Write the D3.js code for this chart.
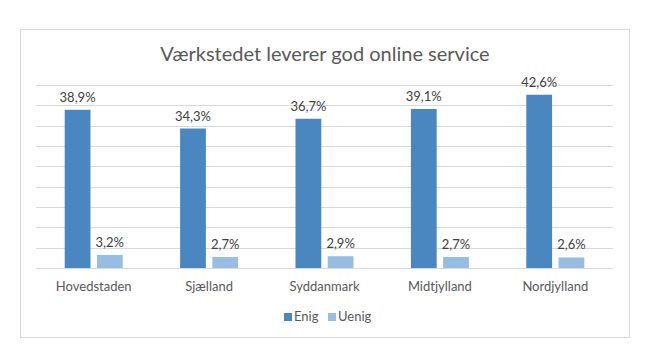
<!DOCTYPE html>
<html><head><meta charset="utf-8">
<script src="https://cdn.jsdelivr.net/npm/d3@7"></script>
<style>body{margin:0;background:#fff}svg{display:block}</style>
</head><body>
<script>
const categories = ["Hovedstaden","Sjælland","Syddanmark","Midtjylland","Nordjylland"];
const seriesNames = ["Enig","Uenig"];
const enig = [38.9,34.3,36.7,39.1,42.6];
const uenig = [3.2,2.7,2.9,2.7,2.6];
const gridTicks = [0,5,10,15,20,25,30,35,40,45];
const title = "Værkstedet leverer god online service";
const colors = ["#4a86c0","#98bde3"];

(function(){
const W=660,H=356;
const font="Lato, 'Open Sans', sans-serif";
const svg=d3.select("body").append("svg").attr("width",W).attr("height",H);
svg.append("rect").attr("x",20.5).attr("y",29.5).attr("width",609).attr("height",308)
  .attr("fill","#fff").attr("stroke","#d9d9d9");
const pL=36,pR=613,pT=85,pB=268;
const x=d3.scaleBand().domain(categories).range([pL,pR]);
const y=d3.scaleLinear().domain([0,45]).range([pB,pT]);
const inner=d3.scaleBand().domain(seriesNames).range([0,58]).paddingInner(0.2);
svg.append("g").selectAll("line").data(gridTicks).join("line")
  .attr("x1",pL).attr("x2",pR).attr("y1",d=>Math.round(y(d))+0.5).attr("y2",d=>Math.round(y(d))+0.5)
  .attr("stroke","#d9d9d9").attr("stroke-width",1.2);
svg.append("text").attr("x",325).attr("y",61).attr("text-anchor","middle")
  .attr("font-family",font).attr("font-size",20).attr("fill","#595959").text(title);
const series=[enig,uenig];
series.forEach((vals,si)=>{
  const g=svg.append("g");
  const off=(x.bandwidth()-58)/2;
  g.selectAll("rect").data(vals).join("rect")
    .attr("x",(d,i)=>x(categories[i])+off+inner(seriesNames[si]))
    .attr("width",inner.bandwidth())
    .attr("y",d=>y(d)).attr("height",d=>pB-y(d)).attr("fill",colors[si]);
  g.selectAll("text").data(vals).join("text")
    .attr("x",(d,i)=>x(categories[i])+off+inner(seriesNames[si])+inner.bandwidth()/2)
    .attr("y",d=>y(d)-8).attr("text-anchor","middle")
    .attr("font-family",font).attr("font-size",13).attr("fill","#404040")
    .text(d=>d.toFixed(1).replace(".",",")+"%");
});
svg.append("g").selectAll("text").data(categories).join("text")
  .attr("x",d=>x(d)+x.bandwidth()/2).attr("y",291).attr("text-anchor","middle")
  .attr("font-family",font).attr("font-size",13).attr("fill","#595959").text(d=>d);
const leg=svg.append("g");
const legX=[284,328];
seriesNames.forEach((n,i)=>{
  leg.append("rect").attr("x",legX[i]).attr("y",313).attr("width",8).attr("height",8).attr("fill",colors[i]);
  leg.append("text").attr("x",legX[i]+10).attr("y",321).attr("font-family",font).attr("font-size",13)
    .attr("fill","#595959").text(n);
});
})();
</script>
</body></html>
